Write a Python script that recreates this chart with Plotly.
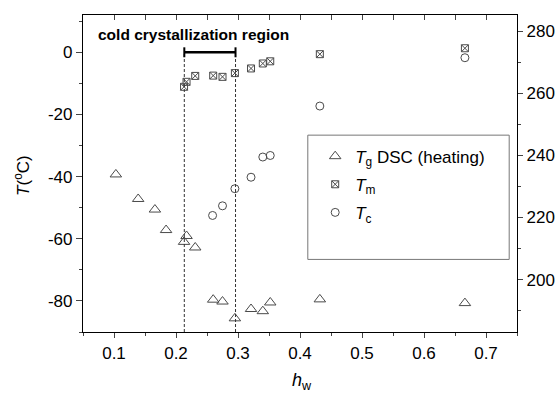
import plotly.graph_objects as go

# ---- data ----
tg_h = [0.103, 0.139, 0.166, 0.184, 0.213, 0.217, 0.231, 0.260, 0.275, 0.295, 0.321, 0.340, 0.352, 0.432, 0.666]
tg_T = [-39.3, -47.2, -50.6, -57.2, -61.0, -59.1, -62.8, -79.6, -80.2, -85.6, -82.6, -83.3, -80.5, -79.5, -80.7]

tm_h = [0.213, 0.217, 0.231, 0.260, 0.275, 0.295, 0.321, 0.340, 0.352, 0.432, 0.666]
tm_T = [-11.1, -9.5, -7.6, -7.5, -7.9, -6.7, -5.2, -3.6, -2.9, -0.6, 1.3]

tc_h = [0.259, 0.275, 0.295, 0.321, 0.340, 0.352, 0.432, 0.666]
tc_T = [-52.5, -49.4, -43.9, -40.2, -33.7, -33.2, -17.3, -1.75]

region_bounds = [0.2134, 0.2960]   # cold crystallization region
region_level = 0.0                 # bracket height (degC)

x_ticks = [0.1, 0.2, 0.3, 0.4, 0.5, 0.6, 0.7]
y_ticks = [0, -20, -40, -60, -80]
y_ticklabels = ["0", "-20", "-40", "-60", "-80"]
k_ticks = [200, 220, 240, 260, 280]

x_range = [0.05, 0.75]
y_range = [-90, 12]
k_offset = 273.15

FONT = "Liberation Sans, Arial, sans-serif"
MK = "#4a4a4a"

fig = go.Figure()

fig.add_trace(go.Scatter(
    x=tg_h, y=tg_T, mode="markers", name="<i>T</i><sub>g</sub> DSC (heating)",
    marker=dict(symbol="triangle-up-open", size=10, color=MK, line=dict(width=1, color=MK)),
    legendgroup="a"))
fig.add_trace(go.Scatter(
    x=tm_h, y=tm_T, mode="markers", name="<i>T</i><sub>m</sub>",
    marker=dict(symbol="square-x-open", size=7, color=MK, line=dict(width=1, color=MK)),
    legendgroup="b"))
fig.add_trace(go.Scatter(
    x=tc_h, y=tc_T, mode="markers", name="<i>T</i><sub>c</sub>",
    marker=dict(symbol="circle-open", size=8, color=MK, line=dict(width=1, color=MK)),
    legendgroup="c"))

# invisible traces to activate right and top axes
fig.add_trace(go.Scatter(x=[x_range[0]], y=[y_range[0] + k_offset], yaxis="y2",
                         mode="markers", marker=dict(opacity=0), showlegend=False, hoverinfo="skip"))
fig.add_trace(go.Scatter(x=[x_range[0]], y=[y_range[0]], xaxis="x2",
                         mode="markers", marker=dict(opacity=0), showlegend=False, hoverinfo="skip"))

shapes = []
# dashed vertical lines
for xv in region_bounds:
    shapes.append(dict(type="line", xref="x", yref="y", x0=xv, x1=xv,
                       y0=y_range[0], y1=region_level - 0.5,
                       line=dict(color="#333", width=1, dash="3px,2px")))
# bracket
shapes.append(dict(type="line", xref="x", yref="y", x0=region_bounds[0], x1=region_bounds[1],
                   y0=region_level, y1=region_level, line=dict(color="black", width=2.5)))
for xv in region_bounds:
    shapes.append(dict(type="line", xref="x", yref="y", x0=xv, x1=xv,
                       y0=region_level - 1.6, y1=region_level + 1.6, line=dict(color="black", width=2)))
# legend box
shapes.append(dict(type="rect", xref="paper", yref="paper", x0=0.518, x1=0.982, y0=0.229, y1=0.621,
                   line=dict(color="#777", width=1), fillcolor="rgba(0,0,0,0)"))

annotations = [
    dict(text="<b>cold crystallization region</b>", xref="paper", yref="paper",
         x=0.031, y=0.94, xanchor="left", yanchor="middle", showarrow=False,
         font=dict(family=FONT, size=15.5, color="black")),
    dict(text="<i>h</i><sub>w</sub>", xref="paper", yref="paper", x=0.505, y=-0.155,
         xanchor="center", yanchor="middle", showarrow=False,
         font=dict(family=FONT, size=18, color="black")),
    dict(text="<i>T</i>(<sup>o</sup>C)", xref="paper", yref="paper", x=-0.141, y=0.495,
         xanchor="center", yanchor="middle", textangle=-90, showarrow=False,
         font=dict(family=FONT, size=17, color="black")),
]

fig.update_layout(
    width=560, height=397,
    margin=dict(l=83, r=43, t=15, b=65, autoexpand=False),
    plot_bgcolor="white", paper_bgcolor="white",
    font=dict(family=FONT, size=17, color="black"),
    showlegend=True,
    legend=dict(x=0.535, y=0.61, xanchor="left", yanchor="top",
                bgcolor="rgba(0,0,0,0)", borderwidth=0,
                font=dict(family=FONT, size=17, color="black"),
                traceorder="grouped", tracegroupgap=3, itemwidth=30),
    shapes=shapes, annotations=annotations,
    xaxis=dict(range=x_range, tickvals=x_ticks, ticks="outside", ticklen=5, tickwidth=1,
               showline=True, linecolor="black", linewidth=1.2, showgrid=False, zeroline=False,
               tickfont=dict(size=17), automargin=False,
               minor=dict(ticks="outside", ticklen=3, dtick=0.05, tick0=0.05, showgrid=False)),
    xaxis2=dict(range=x_range, overlaying="x", side="top", ticks="inside", ticklen=5,
                dtick=0.05, tick0=0.05, showticklabels=False, showline=True, automargin=False,
                linecolor="black", linewidth=1.2, showgrid=False, zeroline=False),
    yaxis=dict(range=y_range, tickvals=y_ticks, ticktext=y_ticklabels, ticks="outside",
               ticklen=6, tickwidth=1, showline=True, linecolor="black", linewidth=1.2,
               showgrid=False, zeroline=False, tickfont=dict(size=17), automargin=False,
               minor=dict(ticks="outside", ticklen=3, dtick=10, tick0=0, showgrid=False)),
    yaxis2=dict(range=[y_range[0] + k_offset, y_range[1] + k_offset], overlaying="y", side="right",
                tickvals=k_ticks, ticks="outside", ticklen=5, tickwidth=1, showline=True,
                linecolor="black", linewidth=1.2, showgrid=False, zeroline=False,
                tickfont=dict(size=17), automargin=False,
                minor=dict(ticks="outside", ticklen=3, dtick=10, tick0=200, showgrid=False)),
)

fig.write_html("out.html")
